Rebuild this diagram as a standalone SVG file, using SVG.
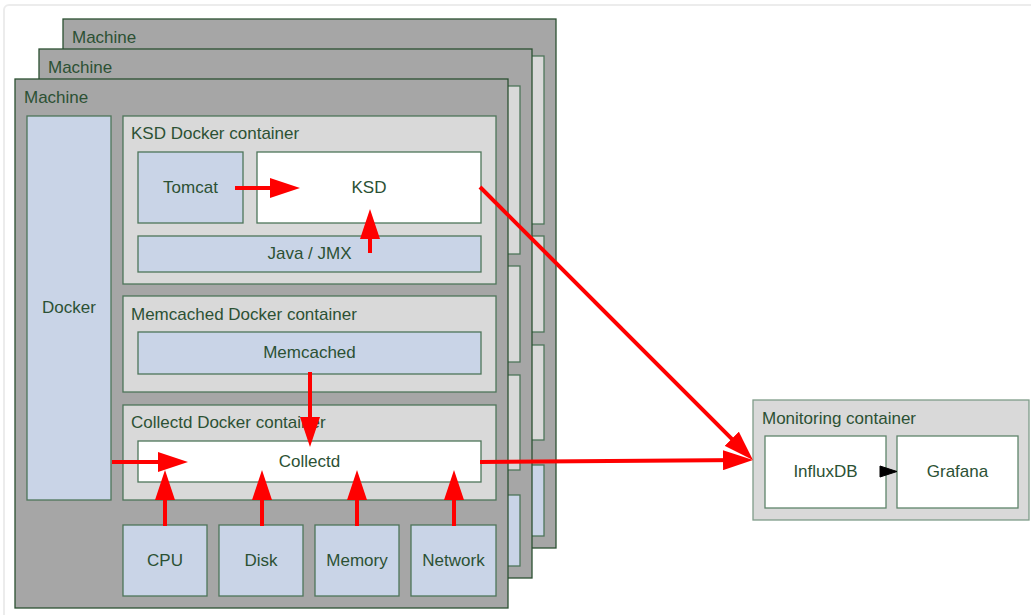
<svg xmlns="http://www.w3.org/2000/svg" width="1031" height="615" viewBox="0 0 1031 615">
<style>
text{font-family:"Liberation Sans",Arial,sans-serif;font-size:17px;fill:#2c5134}
.c{text-anchor:middle}
.mach{fill:#a6a6a6;stroke:#2b5032;stroke-width:1.3}
.cont{fill:#d9d9d9;stroke:#4d7559;stroke-width:1.3}
.blue{fill:#c9d4e7;stroke:#4d7559;stroke-width:1.3}
.white{fill:#ffffff;stroke:#4d7559;stroke-width:1.3}
.mon{fill:#d9d9d9;stroke:#7f9c89;stroke-width:1.3}
.monin{fill:#ffffff;stroke:#5f846b;stroke-width:1.3}
.red{fill:none;stroke:#ff0000;stroke-width:4}
</style>
<defs>
<marker id="rh" viewBox="0 0 30 20" markerWidth="30" markerHeight="20" refX="22" refY="10" orient="auto" markerUnits="userSpaceOnUse">
<path d="M0,0 L30,10 L0,20 Z" fill="#ff0000"/>
</marker>
</defs>
<rect x="0" y="0" width="1031" height="615" fill="#ffffff"/>
<rect x="4" y="5" width="1040" height="620" rx="5" fill="#ffffff" stroke="#ececec" stroke-width="2"/>

<g id="machine3">
<rect class="mach" x="63" y="19" width="493" height="529"/>
<text x="72" y="43">Machine</text>
<rect class="cont" x="171" y="56" width="373" height="168"/>
<rect class="cont" x="171" y="236" width="373" height="96"/>
<rect class="cont" x="171" y="345" width="373" height="95"/>
<rect class="blue" x="459" y="465" width="85" height="71"/>
</g>

<g id="machine2">
<rect class="mach" x="39" y="49" width="493" height="529"/>
<text x="48" y="73">Machine</text>
<rect class="cont" x="147" y="86" width="373" height="168"/>
<rect class="cont" x="147" y="266" width="373" height="96"/>
<rect class="cont" x="147" y="375" width="373" height="95"/>
<rect class="blue" x="435" y="495" width="85" height="71"/>
</g>

<g id="machine1">
<rect class="mach" x="15" y="79" width="493" height="529"/>
<text x="24" y="103">Machine</text>
</g>

<g id="docker">
<rect class="blue" x="27" y="116" width="84" height="384"/>
<text class="c" x="69" y="313">Docker</text>
</g>

<g id="ksd-container">
<rect class="cont" x="123" y="116" width="373" height="168"/>
<text x="131" y="139">KSD Docker container</text>
</g>
<g id="tomcat">
<rect class="blue" x="138" y="152" width="105" height="71"/>
<text class="c" x="190.5" y="193">Tomcat</text>
</g>
<g id="ksd">
<rect class="white" x="257" y="152" width="224" height="71"/>
<text class="c" x="369" y="193">KSD</text>
</g>
<g id="java-jmx">
<rect class="blue" x="138" y="236" width="343" height="36"/>
<text class="c" x="309.5" y="259">Java / JMX</text>
</g>

<g id="memcached-container">
<rect class="cont" x="123" y="296" width="373" height="96"/>
<text x="131" y="320">Memcached Docker container</text>
</g>
<g id="memcached">
<rect class="blue" x="138" y="332" width="343" height="42"/>
<text class="c" x="309.5" y="358">Memcached</text>
</g>

<g id="collectd-container">
<rect class="cont" x="123" y="405" width="373" height="95"/>
<text x="131" y="428">Collectd Docker container</text>
</g>
<g id="collectd">
<rect class="white" x="138" y="441" width="343" height="41"/>
<text class="c" x="309.5" y="467">Collectd</text>
</g>

<g id="cpu">
<rect class="blue" x="123" y="525" width="84" height="71"/>
<text class="c" x="165" y="566">CPU</text>
</g>
<g id="disk">
<rect class="blue" x="219" y="525" width="84" height="71"/>
<text class="c" x="261" y="566">Disk</text>
</g>
<g id="memory">
<rect class="blue" x="315" y="525" width="84" height="71"/>
<text class="c" x="357" y="566">Memory</text>
</g>
<g id="network">
<rect class="blue" x="411" y="525" width="85" height="71"/>
<text class="c" x="453.5" y="566">Network</text>
</g>

<g id="monitoring-container">
<rect class="mon" x="753" y="400" width="276" height="120"/>
<text x="762" y="424">Monitoring container</text>
</g>
<g id="influxdb">
<rect class="monin" x="765" y="436" width="121" height="72"/>
<text class="c" x="825.5" y="477">InfluxDB</text>
</g>
<g id="grafana">
<rect class="monin" x="897" y="436" width="121" height="72"/>
<text class="c" x="957.5" y="477">Grafana</text>
</g>

<g id="connectors">
<path class="red" d="M235,188 L292,188" marker-end="url(#rh)"/>
<path class="red" d="M370,253 L370,217" marker-end="url(#rh)"/>
<path class="red" d="M480,187 L747.3,454.3" marker-end="url(#rh)"/>
<path class="red" d="M310,372 L310,439" marker-end="url(#rh)"/>
<path class="red" d="M112,462 L180,462" marker-end="url(#rh)"/>
<path class="red" d="M165,526 L165,478" marker-end="url(#rh)"/>
<path class="red" d="M262,526 L262,478" marker-end="url(#rh)"/>
<path class="red" d="M357,526 L357,478" marker-end="url(#rh)"/>
<path class="red" d="M454,526 L454,478" marker-end="url(#rh)"/>
<path class="red" d="M480,462 L745,460" marker-end="url(#rh)"/>
<path d="M886,471.5 L880,471.5 M880,466 L897,471.5 L880,477 Z" fill="#000000" stroke="#000000" stroke-width="1"/>
</g>
</svg>
